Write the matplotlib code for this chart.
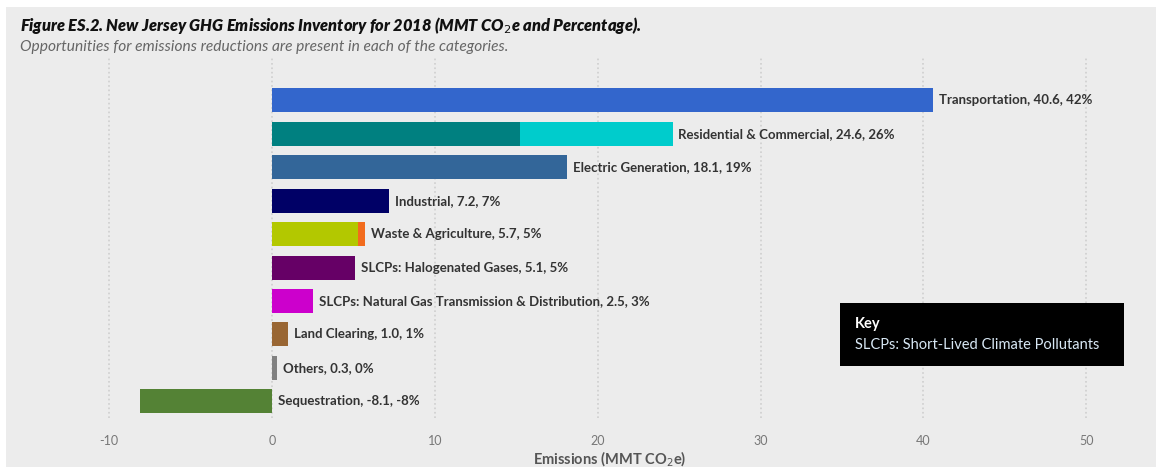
import numpy as np
import matplotlib.pyplot as plt
from matplotlib.patches import Rectangle

categories = ['Transportation', 'Residential & Commercial', 'Electric Generation', 'Industrial',
              'Waste & Agriculture', 'SLCPs: Halogenated Gases',
              'SLCPs: Natural Gas Transmission & Distribution', 'Land Clearing', 'Others', 'Sequestration']
totals = [40.6, 24.6, 18.1, 7.2, 5.7, 5.1, 2.5, 1.0, 0.3, -8.1]
percents = ['42%', '26%', '19%', '7%', '5%', '5%', '3%', '1%', '0%', '-8%']
# first segment of each bar (the rest is stacked on top in second colour)
first_part = [40.6, 15.2, 18.1, 7.2, 5.3, 5.1, 2.5, 1.0, 0.3, -8.1]
colors1 = ['#3366cc', '#008080', '#336699', '#000066', '#b3c800', '#660066', '#cc00cc', '#996633', '#808080', '#548235']
colors2 = [None, '#00cccc', None, None, '#f26b1d', None, None, None, None, None]
xticks = [-10, 0, 10, 20, 30, 40, 50]

BG = '#ececec'
fig = plt.figure(figsize=(11.68, 4.67), dpi=100, facecolor='white')
fig.patches.append(Rectangle((0.005, 0.0), 0.985, 0.985, transform=fig.transFigure,
                             facecolor=BG, edgecolor='none', zorder=-10))

ax = fig.add_axes([80 / 1168, 1 - 418 / 467, (1140 - 80) / 1168, (418 - 57) / 467])
ax.patch.set_alpha(0)
ax.set_xlim(-11.8, 53.3)
y = np.arange(len(categories))
ax.set_ylim(len(categories) - 0.5, -1.3)

for i in range(len(categories)):
    ax.barh(y[i], first_part[i], height=0.72, color=colors1[i], zorder=3)
    if colors2[i]:
        ax.barh(y[i], totals[i] - first_part[i], left=first_part[i], height=0.72, color=colors2[i], zorder=3)
    xend = max(totals[i], 0)
    ax.text(xend + 0.35, y[i], f'{categories[i]}, {totals[i]:.1f}, {percents[i]}',
            va='center', ha='left', fontsize=9.5, color='#333333', fontweight='bold',
            family='Lato', zorder=4)

ax.set_xticks(xticks)
ax.set_xticklabels([str(t) for t in xticks], color='#777777', fontsize=9, family='Lato')
ax.set_yticks([])
ax.tick_params(axis='x', length=0, pad=12)
for s in ax.spines.values():
    s.set_visible(False)
ax.grid(axis='x', color='#cfcfcf', linestyle=':', linewidth=1.2, zorder=0)
ax.set_xlabel('Emissions (MMT CO$_2$e)', fontsize=10.5, color='#555555', fontweight='bold',
              family='Lato', labelpad=2)

fig.text(20 / 1168, 1 - 25 / 467, 'Figure ES.2. New Jersey GHG Emissions Inventory for 2018 (MMT CO$_2$e and Percentage).',
         fontsize=11.8, fontweight='heavy', style='italic', va='center', family='Lato', color='#111111')
fig.text(20 / 1168, 1 - 47 / 467, 'Opportunities for emissions reductions are present in each of the categories.',
         fontsize=11.2, style='italic', va='center', family='Lato', color='#666666')

# key box
fig.patches.append(Rectangle((840 / 1168, 1 - 366 / 467), 284 / 1168, 63 / 467, transform=fig.transFigure,
                             facecolor='black', edgecolor='none', zorder=5))
fig.text(855 / 1168, 1 - 324 / 467, 'Key', color='white', fontsize=10.5, fontweight='bold',
         va='center', family='Lato', zorder=6)
fig.text(855 / 1168, 1 - 345 / 467, 'SLCPs: Short-Lived Climate Pollutants', color='#d8e8f5',
         fontsize=10.5, va='center', family='Lato', zorder=6)

fig.savefig('out.png', dpi=100, facecolor='white')
